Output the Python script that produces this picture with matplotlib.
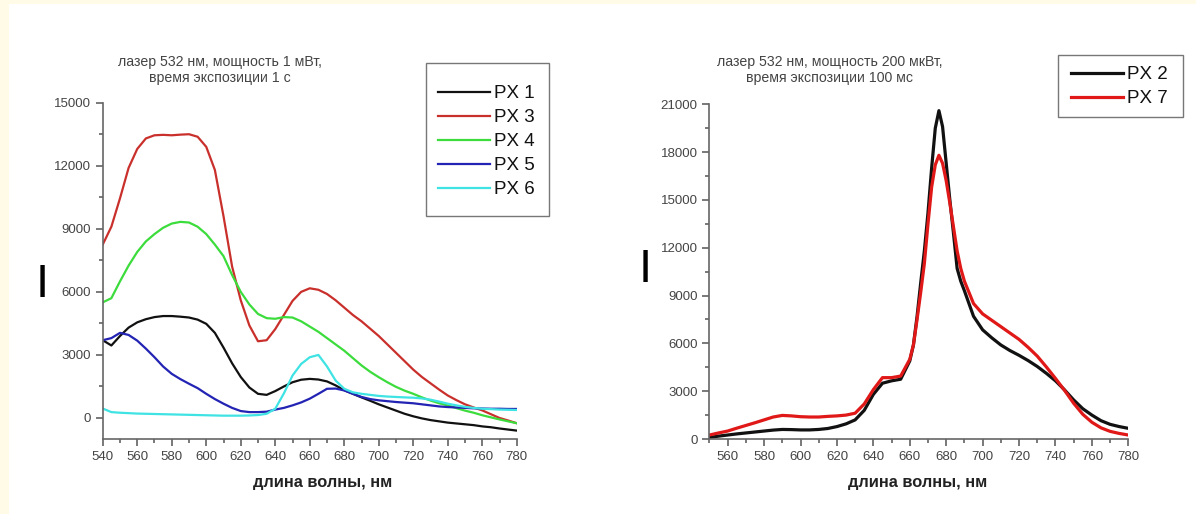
import matplotlib
matplotlib.use("Agg")
import matplotlib.pyplot as plt
from matplotlib.ticker import MultipleLocator
from matplotlib.patches import Rectangle

plt.rcParams['font.family'] = ['Liberation Sans', 'DejaVu Sans']

# ---- left panel: laser 532 nm, 1 mW, 1 s ----
wl_left = list(range(540, 781, 5))

px1 = [3700, 3450, 3900, 4300, 4550, 4700, 4800, 4850, 4850, 4820,
       4780, 4680, 4480, 4050, 3350, 2600, 1950, 1450, 1150, 1100,
       1280, 1500, 1700, 1820, 1860, 1830, 1740, 1550, 1320, 1150,
       980, 820, 650, 500, 350, 200, 80, -20, -100, -160,
       -220, -260, -300, -340, -400, -440, -500, -550, -600]
px3 = [8250, 9100, 10450, 11900, 12800, 13300, 13450, 13470, 13450, 13480,
       13500, 13380, 12900, 11800, 9600, 7200, 5600, 4400, 3650, 3700,
       4230, 4900, 5570, 6000, 6170, 6100, 5900, 5600, 5250, 4900,
       4600, 4250, 3900, 3500, 3100, 2700, 2300, 1950, 1650, 1350,
       1070, 850, 650, 500, 360, 180, 0, -120, -250]
px4 = [5500, 5700, 6500, 7250, 7900, 8400, 8750, 9050, 9250, 9330,
       9300, 9100, 8750, 8250, 7700, 6800, 6000, 5400, 4950, 4750,
       4720, 4800, 4780, 4600, 4350, 4100, 3800, 3500, 3200, 2850,
       2500, 2200, 1940, 1700, 1480, 1300, 1150, 980, 830, 700,
       600, 470, 350, 250, 130, 30, -70, -160, -250]
px5 = [3700, 3800, 4050, 3950, 3680, 3300, 2890, 2450, 2100, 1850,
       1630, 1420, 1150, 900, 680, 480, 330, 280, 280, 300,
       400, 480, 600, 740, 920, 1150, 1390, 1400, 1310, 1150,
       1000, 900, 840, 800, 760, 730, 700, 650, 600, 550,
       520, 500, 480, 460, 450, 440, 440, 430, 430]
px6 = [450, 280, 250, 230, 210, 200, 190, 180, 170, 160,
       150, 140, 130, 120, 110, 110, 110, 120, 140, 200,
       440, 1170, 2020, 2570, 2890, 3000, 2450, 1780, 1390, 1220,
       1150, 1100, 1050, 1020, 1000, 980, 965, 930, 870, 780,
       680, 600, 530, 480, 440, 420, 400, 390, 380]

left_series = [("PX 1", px1, "#111111"), ("PX 3", px3, "#c9302c"),
               ("PX 4", px4, "#3cdc3c"), ("PX 5", px5, "#2323b4"),
               ("PX 6", px6, "#3fe3e3")]

# ---- right panel: laser 532 nm, 200 uW, 100 ms ----
wl_right = (list(range(550, 660, 5)) + list(range(660, 690, 2))
            + list(range(690, 781, 5)))

px2 = [100, 180, 250, 320, 380, 440, 500, 560, 600, 590,
       570, 570, 600, 660, 780, 950, 1200, 1800, 2800, 3500,
       3650, 3750,
       4900, 5900, 7700, 9800, 11800, 14200, 17000, 19500, 20600, 19600,
       17300, 15000, 12900, 10700, 9900,
       9300, 7700, 6850, 6350, 5900, 5550, 5250, 4920, 4550, 4120,
       3650, 3080, 2450, 1900, 1500, 1150, 920, 780, 670]
px7 = [250, 380, 500, 680, 850, 1020, 1200, 1380, 1480, 1450,
       1400, 1380, 1380, 1420, 1450, 1500, 1620, 2200, 3100, 3850,
       3850, 3950,
       5000, 5900, 7500, 9200, 11000, 13500, 15800, 17200, 17800, 17300,
       16200, 14800, 13300, 11800, 10700,
       9900, 8500, 7850, 7450, 7050, 6650, 6250, 5750, 5200, 4520,
       3800, 3050, 2240, 1550, 1050, 700, 480, 350, 250]

right_series = [("PX 2", px2, "#111111"), ("PX 7", px7, "#e01818")]

W, H = 1196, 514
fig = plt.figure(figsize=(11.96, 5.14), dpi=100, facecolor="#fffbe6")
fig.patches.append(Rectangle((9 / W, 0), 1, 1 - 4 / H, transform=fig.transFigure,
                             facecolor="white", edgecolor="none", zorder=-10))

ax1 = fig.add_axes([0.0859, 0.1459, 0.3462, 0.6543])
ax2 = fig.add_axes([0.5932, 0.1459, 0.3502, 0.6512])


def style(ax):
    ax.set_facecolor("none")
    for s in ["top", "right"]:
        ax.spines[s].set_visible(False)
    for s in ["left", "bottom"]:
        ax.spines[s].set_color("#666666")
        ax.spines[s].set_linewidth(1.2)
    ax.xaxis.set_major_locator(MultipleLocator(20))
    ax.xaxis.set_minor_locator(MultipleLocator(10))
    ax.yaxis.set_major_locator(MultipleLocator(3000))
    ax.yaxis.set_minor_locator(MultipleLocator(1500))
    ax.tick_params(which="both", direction="out", colors="#555555", width=1.1,
                   labelsize=9.5, labelcolor="#444444", pad=3.5)
    ax.tick_params(which="major", length=5)
    ax.tick_params(which="minor", length=3)


for name, vals, col in left_series:
    ax1.plot(wl_left, vals, color=col, lw=1.6, label=name)
ax1.set_xlim(540, 780)
ax1.set_ylim(-1000, 15000)
style(ax1)

for name, vals, col in right_series:
    ax2.plot(wl_right, vals, color=col, lw=2.3, label=name)
ax2.set_xlim(550, 780)
ax2.set_ylim(0, 21000)
style(ax2)

# legends without frame, frame drawn as a box in figure pixels
leg_kw = dict(frameon=False, fontsize=13.5, handlelength=2.75, handletextpad=0.25,
              labelspacing=0.37, borderpad=0, borderaxespad=0)
l1 = ax1.legend(loc="upper left", bbox_to_anchor=(438 / W, 1 - 85 / H),
                bbox_transform=fig.transFigure, **leg_kw)
l2 = ax2.legend(loc="upper left", bbox_to_anchor=(1071 / W, 1 - 66 / H),
                bbox_transform=fig.transFigure, **leg_kw)
for lg in (l1, l2):
    for t in lg.get_texts():
        t.set_color("#111111")

for (x0, y0, x1, y1) in [(426, 62.7, 549, 215.7), (1058, 55, 1183, 117)]:
    fig.patches.append(Rectangle((x0 / W, 1 - y1 / H), (x1 - x0) / W, (y1 - y0) / H,
                                 transform=fig.transFigure, facecolor="none",
                                 edgecolor="#777777", lw=1.0, zorder=5))

fig.text(220 / W, 1 - 70 / H, "лазер 532 нм, мощность 1 мВт,\nвремя экспозиции 1 с",
         ha="center", va="center", fontsize=10.2, color="#444444", linespacing=1.25)
fig.text(830 / W, 1 - 70 / H, "лазер 532 нм, мощность 200 мкВт,\nвремя экспозиции 100 мс",
         ha="center", va="center", fontsize=10.2, color="#444444", linespacing=1.25)

fig.text(323 / W, 1 - 483 / H, "длина волны, нм", ha="center", va="center",
         fontsize=11.8, fontweight="bold", color="#222222")
fig.text(918 / W, 1 - 483 / H, "длина волны, нм", ha="center", va="center",
         fontsize=11.8, fontweight="bold", color="#222222")

fig.text(42 / W, 1 - 285 / H, "I", ha="center", va="center", fontsize=34, color="black")
fig.text(645 / W, 1 - 270 / H, "I", ha="center", va="center", fontsize=34, color="black")

fig.savefig("out.png", dpi=100, facecolor=fig.get_facecolor())
